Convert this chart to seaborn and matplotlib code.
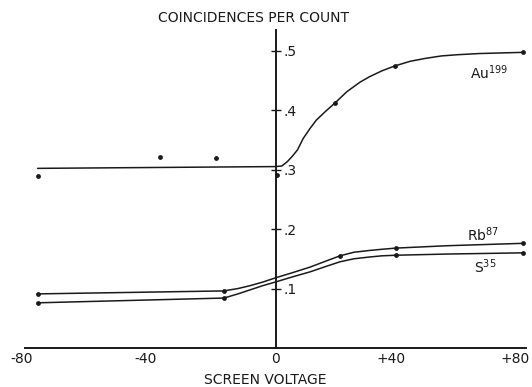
import numpy as np
import pandas as pd
import seaborn as sns
import matplotlib
matplotlib.use("Agg")
import matplotlib.pyplot as plt
import matplotlib.transforms as mtransforms

# measured points
au_x = [-76, -37, -19, 0.5, 19, 38, 79]
au_y = [0.289, 0.321, 0.319, 0.291, 0.412, 0.474, 0.497]
rb_x = [-76, -16.5, 20.6, 38.5, 79]
rb_y = [0.091, 0.096, 0.155, 0.168, 0.176]
s_x = [-76, -16.5, 38.5, 79]
s_y = [0.076, 0.084, 0.156, 0.160]

# hand-drawn fitted curves
au_curve_x = [-76, 0, 2, 3.7, 5.3, 7, 8.8, 11, 13, 16, 19, 22.8, 27, 30, 34, 38, 43, 48, 53, 58, 65, 79]
au_curve_y = [0.302, 0.305, 0.306, 0.313, 0.322, 0.333, 0.352, 0.369, 0.383, 0.398, 0.412, 0.431,
              0.447, 0.456, 0.466, 0.474, 0.482, 0.487, 0.491, 0.493, 0.495, 0.497]
rb_curve_x = [-76, -16.5, -12, -8, -4, 0, 5, 11, 16, 20.6, 25, 30, 34, 38.5, 55, 79]
rb_curve_y = [0.091, 0.096, 0.100, 0.105, 0.111, 0.118, 0.126, 0.136, 0.146, 0.155, 0.161,
              0.164, 0.166, 0.168, 0.172, 0.176]
s_curve_x = [-76, -16.5, -12, -8, -4, 0, 5, 11, 16, 20.6, 25, 30, 34, 38.5, 55, 79]
s_curve_y = [0.076, 0.084, 0.091, 0.098, 0.105, 0.111, 0.119, 0.128, 0.137, 0.145, 0.150,
             0.153, 0.155, 0.156, 0.158, 0.160]

x_ticks = [-80, -40, 0, 40, 80]
x_tick_labels = ["-80", "-40", "0", "+40", "+80"]
y_ticks = [0.1, 0.2, 0.3, 0.4, 0.5]
y_tick_labels = [".1", ".2", ".3", ".4", ".5"]

sns.set_style("white")
plt.rcParams["font.family"] = ["DejaVu Sans"]

fig = plt.figure(figsize=(5.32, 3.87), dpi=100)
ax = fig.add_axes([0, 0, 1, 1])

ink = "#1a1a1a"
for cx, cy in [(au_curve_x, au_curve_y), (rb_curve_x, rb_curve_y), (s_curve_x, s_curve_y)]:
    sns.lineplot(x=cx, y=cy, ax=ax, sort=False, color=ink, lw=1.1, estimator=None)
for px, py in [(au_x, au_y), (rb_x, rb_y), (s_x, s_y)]:
    sns.scatterplot(x=px, y=py, ax=ax, color=ink, s=12, edgecolor=ink, linewidth=0, zorder=5)

ax.set_xlim(-88.0, 81.9)
ax.set_ylim(-0.0655, 0.585)

# axes through the origin
ax.spines["top"].set_visible(False)
ax.spines["left"].set_visible(False)
ax.spines["bottom"].set_position(("data", 0))
ax.spines["bottom"].set_bounds(-80, 80)
ax.spines["right"].set_position(("data", 0))
ax.spines["right"].set_bounds(0, 0.534)
for sp in ("bottom", "right"):
    ax.spines[sp].set_color(ink)
    ax.spines[sp].set_linewidth(1.4)

ax.yaxis.set_ticks_position("right")
ax.set_xticks(x_ticks)
ax.set_xticklabels(x_tick_labels)
ax.set_yticks(y_ticks)
ax.set_yticklabels(y_tick_labels)
ax.tick_params(axis="x", direction="in", length=5, width=1.2, colors=ink, labelsize=10, pad=3)
ax.tick_params(axis="y", direction="inout", length=7, width=1.0, colors=ink, labelsize=10, pad=2)
ax.set_xlabel("")
ax.set_ylabel("")

# the signed labels hang slightly left of their ticks in the original
shifts = [-3, -5, 0, -10, -11]
for lab, dx in zip(ax.get_xticklabels(), shifts):
    lab.set_transform(lab.get_transform() + mtransforms.ScaledTranslation(dx / 100, 0, fig.dpi_scale_trans))

fig.text(254 / 532, 1 - 18 / 387, "COINCIDENCES PER COUNT", ha="center", va="center",
         fontsize=10, color=ink)
fig.text(265 / 532, 1 - 380 / 387, "SCREEN VOLTAGE", ha="center", va="center",
         fontsize=10, color=ink)

ax.text(62, 0.462, r"Au$^{199}$", fontsize=10, color=ink, va="center", ha="left")
ax.text(61, 0.19, r"Rb$^{87}$", fontsize=10, color=ink, va="center", ha="left")
ax.text(63.5, 0.137, r"S$^{35}$", fontsize=10, color=ink, va="center", ha="left")

fig.savefig("out.png", dpi=100)
